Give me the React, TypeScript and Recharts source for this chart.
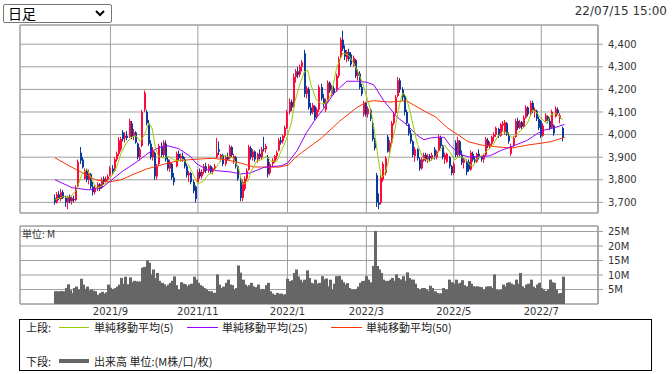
import React from "react";
import {
  ComposedChart,
  Bar,
  Line,
  XAxis,
  YAxis,
  CartesianGrid,
  ReferenceArea,
} from "recharts";

// 日足 OHLC (trading-day index 0 = first candle, last = 2022/07/15)
const opens = [
  3720, 3700, 3735, 3715, 3745, 3720, 3700, 3725, 3705, 3715, 3710, 3770, 3920, 3890, 3805, 3840, 3800, 3825, 3770, 3745,
  3765, 3780, 3765, 3805, 3790, 3800, 3820, 3850, 3840, 3890, 3915, 3935, 4010, 3985, 3995, 3990, 4050, 3995, 4010, 3960,
  3900, 3950, 4110, 4100, 4050, 3960, 3900, 3920, 3815, 3870, 3950, 3910, 3960, 3890, 3850, 3870, 3810, 3860, 3915, 3895,
  3905, 3890, 3860, 3820, 3830, 3790, 3770, 3790, 3835, 3815, 3835, 3860, 3840, 3860, 3835, 3850, 3900, 3935, 3895, 3910,
  3870, 3900, 3895, 3945, 3880, 3900, 3860, 3800, 3720, 3760, 3805, 3845, 3940, 3900, 3925, 3890, 3915, 3900, 3940, 3935,
  3900, 3830, 3870, 3880, 3905, 3930, 3975, 3970, 3995, 4030, 4100, 4145, 4125, 4255, 4280, 4265, 4300, 4360, 4180, 4200,
  4120, 4100, 4125, 4080, 4110, 4210, 4160, 4110, 4150, 4230, 4180, 4205, 4200, 4260, 4345, 4420, 4375, 4335, 4365, 4355,
  4310, 4330, 4260, 4270, 4210, 4090, 4140, 4090, 4110, 4050, 3975, 3820, 3700, 3700, 3800, 3830, 3990, 3930, 3965, 4050,
  4095, 4170, 4240, 4200, 4170, 4100, 4045, 4005, 3970, 3905, 3935, 3890, 3850, 3885, 3910, 3890, 3905, 3895, 3935, 3900,
  3930, 3985, 3950, 3890, 3880, 3900, 3860, 3830, 3965, 3910, 3970, 3910, 3875, 3880, 3880, 3845, 3915, 3890, 3880, 3915,
  3900, 3890, 3910, 3975, 3950, 3960, 3990, 4000, 4025, 3995, 4040, 4010, 4050, 3995, 3915, 3950, 3990, 4060, 4030, 4055,
  4035, 4075, 4120, 4090, 4140, 4100, 4105, 4070, 4060, 3995, 4060, 4080, 4060, 4030, 4040, 4080, 4110, 4070, 4030,
];
const highs = [
  3735, 3745, 3750, 3760, 3755, 3730, 3730, 3735, 3725, 3730, 3775, 3890, 3945, 3900, 3850, 3850, 3845, 3830, 3790, 3775,
  3790, 3785, 3810, 3815, 3815, 3825, 3860, 3865, 3900, 3925, 3990, 3990, 4020, 4010, 4015, 4070, 4060, 4025, 4015, 3965,
  3945, 4110, 4195, 4110, 4065, 3975, 3945, 3925, 3870, 3960, 3965, 3975, 3975, 3900, 3890, 3875, 3830, 3925, 3930, 3915,
  3920, 3900, 3870, 3840, 3835, 3800, 3775, 3845, 3850, 3845, 3870, 3875, 3870, 3865, 3855, 3870, 3985, 3970, 3915, 3915,
  3905, 3920, 3955, 3950, 3915, 3905, 3865, 3810, 3800, 3815, 3850, 3955, 3950, 3935, 3930, 3920, 3935, 3945, 3990, 3960,
  3910, 3880, 3895, 3910, 3930, 3985, 3990, 4000, 4040, 4110, 4160, 4155, 4270, 4290, 4300, 4310, 4330, 4375, 4215, 4210,
  4140, 4140, 4130, 4120, 4220, 4225, 4180, 4160, 4240, 4235, 4220, 4215, 4270, 4345, 4430, 4460, 4395, 4375, 4380, 4365,
  4350, 4335, 4290, 4280, 4225, 4150, 4145, 4125, 4115, 4060, 3985, 3830, 3740, 3820, 3880, 3905, 3998, 3975, 4060, 4100,
  4175, 4255, 4250, 4210, 4180, 4110, 4050, 4020, 3975, 3945, 3940, 3900, 3900, 3920, 3920, 3915, 3915, 3920, 3945, 3930,
  4000, 3995, 3955, 3920, 3920, 3905, 3865, 3880, 3975, 3990, 3975, 3930, 3900, 3890, 3890, 3930, 3925, 3905, 3920, 3935,
  3910, 3915, 3990, 3985, 3970, 3995, 4010, 4035, 4030, 4050, 4060, 4065, 4055, 4010, 3960, 3995, 4070, 4075, 4065, 4060,
  4085, 4130, 4125, 4150, 4150, 4120, 4110, 4080, 4065, 4050, 4095, 4085, 4075, 4110, 4045, 4125, 4120, 4095, 4035,
];
const lows = [
  3690, 3695, 3710, 3705, 3715, 3680, 3670, 3695, 3690, 3700, 3705, 3765, 3870, 3850, 3800, 3790, 3780, 3760, 3730, 3735,
  3750, 3750, 3760, 3780, 3785, 3790, 3815, 3825, 3835, 3880, 3905, 3925, 3970, 3965, 3975, 3985, 3980, 3975, 3960, 3890,
  3885, 3945, 4100, 4040, 3950, 3890, 3885, 3800, 3800, 3860, 3900, 3900, 3880, 3840, 3835, 3800, 3775, 3855, 3885, 3880,
  3880, 3850, 3810, 3790, 3780, 3740, 3700, 3785, 3805, 3805, 3825, 3830, 3830, 3830, 3825, 3840, 3895, 3910, 3880, 3860,
  3860, 3885, 3890, 3900, 3870, 3850, 3795, 3705, 3705, 3750, 3795, 3840, 3890, 3885, 3880, 3875, 3890, 3890, 3925, 3920,
  3810, 3820, 3860, 3875, 3890, 3925, 3955, 3960, 3985, 4025, 4090, 4105, 4120, 4230, 4250, 4255, 4280, 4165, 4160, 4110,
  4085, 4090, 4065, 4070, 4100, 4150, 4120, 4100, 4145, 4185, 4170, 4175, 4190, 4250, 4340, 4370, 4330, 4320, 4325, 4300,
  4300, 4250, 4240, 4200, 4170, 4080, 4080, 4075, 4060, 3970, 3930, 3680, 3670, 3690, 3790, 3820, 3920, 3920, 3960, 4040,
  4090, 4165, 4185, 4150, 4085, 4040, 3995, 3960, 3900, 3880, 3885, 3840, 3845, 3880, 3880, 3875, 3880, 3885, 3890, 3890,
  3925, 3940, 3890, 3870, 3875, 3850, 3820, 3820, 3900, 3900, 3900, 3865, 3850, 3820, 3835, 3840, 3880, 3870, 3875, 3890,
  3880, 3875, 3905, 3940, 3935, 3950, 3970, 3990, 3985, 3990, 4015, 4000, 3995, 3960, 3905, 3945, 3985, 4020, 4025, 4025,
  4030, 4070, 4080, 4085, 4095, 4075, 4060, 4020, 3985, 3990, 4055, 4050, 4020, 4025, 3995, 4075, 4085, 4050, 3970,
];
const closes = [
  3700, 3735, 3715, 3745, 3720, 3700, 3725, 3705, 3720, 3710, 3765, 3880, 3885, 3855, 3840, 3800, 3830, 3770, 3745, 3765,
  3780, 3760, 3800, 3790, 3805, 3815, 3850, 3835, 3890, 3915, 3975, 3980, 3980, 3995, 3985, 4060, 3990, 4010, 3965, 3900,
  3935, 4100, 4185, 4050, 3960, 3900, 3930, 3815, 3860, 3950, 3910, 3965, 3890, 3850, 3880, 3810, 3790, 3915, 3895, 3905,
  3890, 3860, 3820, 3830, 3790, 3750, 3715, 3835, 3815, 3835, 3860, 3840, 3860, 3835, 3850, 3860, 3920, 3925, 3910, 3870,
  3900, 3890, 3945, 3910, 3905, 3860, 3805, 3720, 3790, 3805, 3840, 3945, 3900, 3925, 3890, 3915, 3900, 3935, 3935, 3950,
  3825, 3870, 3885, 3905, 3920, 3975, 3965, 3995, 4030, 4100, 4145, 4120, 4255, 4280, 4265, 4300, 4320, 4180, 4205, 4120,
  4095, 4130, 4075, 4110, 4210, 4160, 4135, 4150, 4230, 4195, 4210, 4185, 4260, 4335, 4420, 4380, 4345, 4365, 4335, 4310,
  4340, 4260, 4275, 4210, 4180, 4140, 4090, 4115, 4070, 3980, 3940, 3700, 3690, 3810, 3870, 3895, 3925, 3965, 4050, 4090,
  4165, 4240, 4200, 4165, 4100, 4050, 4005, 3970, 3910, 3935, 3895, 3850, 3890, 3910, 3890, 3905, 3895, 3910, 3900, 3925,
  3990, 3950, 3900, 3910, 3915, 3860, 3830, 3870, 3910, 3975, 3910, 3875, 3890, 3835, 3845, 3920, 3890, 3880, 3915, 3900,
  3890, 3910, 3980, 3950, 3960, 3990, 4000, 4030, 3995, 4045, 4050, 4055, 4000, 3970, 3950, 3985, 4060, 4030, 4055, 4035,
  4075, 4120, 4090, 4140, 4105, 4110, 4070, 4030, 3995, 4040, 4085, 4060, 4030, 4100, 4005, 4115, 4095, 4085, 3985,
];
// 出来高 (M)
const volumes = [
  4.4, 4.4, 4.3, 4.5, 4.4, 5.5, 6.8, 4.8, 3.8, 5.5, 6.0, 5.0, 8.7, 6.7, 5.2, 6.0, 4.7, 5.0, 4.6, 4.4,
  3.2, 3.8, 4.2, 3.6, 4.0, 6.7, 5.6, 5.2, 5.5, 6.0, 6.7, 9.0, 7.0, 9.4, 6.8, 9.2, 7.5, 8.0, 7.8, 7.7,
  7.8, 12.5, 12.8, 15.0, 14.2, 10.2, 11.9, 8.9, 10.7, 8.0, 7.3, 6.8, 6.1, 6.7, 7.3, 8.0, 9.5, 6.5, 5.0, 7.5,
  7.0, 6.8, 6.1, 6.7, 7.0, 9.4, 8.4, 7.3, 6.5, 6.1, 5.5, 5.0, 4.5, 4.4, 3.8, 3.9, 10.2, 6.7, 5.5, 6.0,
  7.3, 8.4, 6.7, 6.5, 5.0, 5.5, 13.3, 10.8, 8.4, 6.7, 6.1, 6.5, 7.3, 6.1, 5.8, 6.7, 5.0, 5.2, 5.0, 6.5,
  7.3, 4.4, 3.6, 3.2, 3.8, 3.5, 3.6, 3.2, 3.4, 8.7, 7.9, 8.2, 10.7, 11.9, 9.5, 8.4, 7.5, 8.4, 11.6, 9.0,
  7.3, 7.0, 8.4, 7.0, 7.3, 9.6, 8.5, 8.8, 6.1, 8.4, 5.0, 7.0, 9.6, 9.7, 8.4, 7.5, 6.7, 7.2, 5.5, 5.0,
  5.0, 5.2, 6.0, 7.3, 7.9, 8.0, 9.6, 8.4, 7.5, 13.1, 25.2, 13.1, 11.9, 10.7, 8.4, 8.0, 7.9, 8.4, 9.0, 8.0,
  10.2, 9.0, 8.5, 9.6, 8.0, 10.9, 9.0, 8.4, 8.4, 7.0, 5.5, 5.0, 5.5, 5.5, 5.0, 4.5, 6.3, 5.5, 4.4, 3.8,
  3.6, 3.7, 5.5, 5.0, 5.0, 8.4, 7.5, 7.0, 8.4, 7.0, 7.3, 8.2, 6.5, 6.1, 7.9, 7.0, 6.1, 6.0, 6.1, 5.9,
  5.8, 5.0, 6.0, 6.1, 6.1, 5.5, 10.2, 5.0, 4.8, 5.0, 6.7, 6.0, 7.3, 7.5, 7.0, 6.7, 8.4, 7.0, 10.7, 6.1,
  5.5, 6.7, 7.0, 8.4, 6.0, 5.5, 6.7, 7.3, 5.5, 5.0, 4.5, 5.0, 8.4, 7.5, 7.3, 5.0, 3.6, 3.8, 9.4,
];

// 移動平均 as [trading-day index, value]
const ma5Points: [number, number][] = [
  [0, 3711], [4, 3726], [7, 3723], [10, 3753], [12.5, 3822], [15, 3847], [17, 3807], [19.5, 3763], [22, 3773], [24, 3788],
  [26.5, 3815], [29, 3859], [31, 3918], [33.5, 3963], [36, 3989], [38, 3995], [40, 3970], [42, 4000], [44, 4051], [45.5, 4029],
  [47, 3948], [48.5, 3904], [51, 3896], [53, 3904], [55.5, 3889], [58, 3884], [60, 3890], [62.5, 3868], [64.5, 3831], [67, 3782],
  [69.5, 3794], [72, 3824], [74, 3831], [76.5, 3868], [79, 3909], [81, 3904], [83.5, 3897], [86, 3853], [88, 3779], [90.5, 3794],
  [92, 3838], [94.5, 3882], [97, 3890], [99, 3904], [101.5, 3882], [104, 3882], [106, 3926], [108.5, 3978], [111, 4059], [112.5, 4147],
  [115, 4228], [117, 4279], [118.5, 4285], [120, 4221], [122.5, 4154], [125, 4135], [127, 4140], [129.5, 4176], [132, 4294], [135, 4360],
  [137.5, 4353], [139.5, 4324], [142, 4279], [144.5, 4221], [147, 4140], [148.5, 4088], [150, 4000], [151.5, 3897], [153, 3809], [154.5, 3824],
  [156, 3868], [157.5, 3941], [159.5, 4029], [161.5, 4132], [163, 4184], [164.5, 4169], [166.5, 4103], [168.5, 4015], [170, 3956], [172.5, 3897],
  [175.5, 3882], [178, 3898], [180, 3925], [182.5, 3954], [185, 3925], [187.5, 3888], [189.5, 3903], [192, 3896], [194.5, 3866], [196, 3859],
  [198, 3896], [200.5, 3910], [203, 3932], [205.5, 3954], [207.5, 3991], [210, 4013], [212.5, 4006], [214.5, 3984], [217, 4006], [219.5, 4028],
  [221.5, 4050], [224, 4109], [225.5, 4101], [228, 4072], [230.5, 4050], [232.5, 4087], [235, 4094], [237.5, 4072], [238, 4065],
];
const ma25Points: [number, number][] = [
  [0, 3800], [8, 3765], [16, 3755], [22, 3765], [26, 3795], [32, 3840], [38, 3877], [44, 3920], [49, 3943], [53, 3950],
  [58, 3938], [63.5, 3903], [66.5, 3870], [71.5, 3844], [76, 3840], [82, 3835], [87, 3826], [91.5, 3830], [98, 3855], [106, 3862],
  [109, 3873], [113.5, 3929], [118, 4010], [122.8, 4077], [125.6, 4110], [130.6, 4180], [133.4, 4206], [136.8, 4236], [141.6, 4236], [146, 4232],
  [149.5, 4220], [154, 4152], [160.2, 4079], [164.8, 4045], [169.6, 3998], [173, 3977], [176, 3985], [179, 3988], [182.5, 3988], [185.5, 3949],
  [190.2, 3912], [194, 3901], [200, 3902], [204.2, 3907], [208.9, 3929], [215.2, 3951], [221.5, 3975], [226.4, 4006], [229.5, 4020], [234, 4030],
  [238.8, 4045],
];
const ma50Points: [number, number][] = [
  [0, 3897], [8, 3855], [13, 3830], [19, 3800], [25, 3790], [31, 3800], [37, 3825], [43, 3848], [50, 3866], [57, 3883],
  [62, 3888], [68, 3892], [74, 3895], [80.6, 3888], [87, 3874], [93, 3857], [100, 3856], [105, 3856], [109.3, 3865], [112.5, 3897],
  [115.6, 3920], [118.5, 3940], [125, 3985], [133.4, 4059], [141.3, 4118], [146, 4144], [149, 4150], [157, 4144], [164.7, 4150], [168, 4132],
  [174, 4100], [178.5, 4078], [184.2, 4028], [189, 3999], [193.6, 3969], [199.8, 3954], [206, 3947], [214, 3940], [221.7, 3954], [228, 3962],
  [232.7, 3969], [239, 3988],
];

const monthStartIdx = [26, 67, 109, 146, 187, 228];
const monthLabels = ["2021/9", "2021/11", "2022/1", "2022/3", "2022/5", "2022/7"];
const priceTicks = [3700, 3800, 3900, 4000, 4100, 4200, 4300, 4400];
const volumeTicks = [5, 10, 15, 20, 25];

const X_DOMAIN: [number, number] = [-16.4, 254.6];
const PRICE_DOMAIN: [number, number] = [3653, 4485];
const VOL_DOMAIN: [number, number] = [0, 26.9];

const UP = "#ff0a3c";
const DOWN = "#0a3a9c";
const GRID = "#9e9e9e";
const AXIS_FONT = "'DejaVu Sans', Verdana, sans-serif";
const JP_FONT = "'Noto Sans CJK JP', sans-serif";

const candleRows = closes.map((c, i) => ({
  i,
  open: opens[i],
  high: highs[i],
  low: lows[i],
  close: c,
  range: [lows[i], highs[i]],
}));
const volumeRows = volumes.map((v, i) => ({ i, volume: v }));
const toRows = (pts: [number, number][]) => pts.map(([i, v]) => ({ i, v }));

function Candle(props: any) {
  const { x, y, width, height, payload } = props;
  if (x == null || !payload) return null;
  const top = Math.min(y, y + height);
  const h = Math.abs(height);
  const span = payload.high - payload.low || 1;
  const toY = (v: number) => top + ((payload.high - v) / span) * h;
  const color = payload.close >= payload.open ? UP : DOWN;
  const c = Math.round(x + width / 2);
  const bTop = toY(Math.max(payload.open, payload.close));
  const bBot = toY(Math.min(payload.open, payload.close));
  return (
    <g>
      <rect x={c - 1} y={top} width={1} height={Math.max(1, h)} fill={color} />
      <rect x={c - 1} y={bTop} width={2} height={Math.max(1, bBot - bTop)} fill={color} />
    </g>
  );
}

function VolumeBar(props: any) {
  const { x, y, width, height } = props;
  if (x == null) return null;
  const c = Math.round(x + width / 2);
  return <rect x={c - 1} y={y} width={3} height={Math.max(0, height)} fill="#666666" />;
}

const tickStyle = { fill: "#333", fontSize: 10, fontFamily: AXIS_FONT };

export default function App() {
  return (
    <div style={{ position: "absolute", left: 0, top: 0, width: 672, height: 374, background: "#fff" }}>
      {/* 期間セレクタ */}
      <div
        style={{
          position: "absolute",
          left: 3,
          top: 4,
          width: 109,
          height: 19,
          boxSizing: "border-box",
          border: "1px solid #767676",
          borderRadius: 2,
          background: "#fff",
          fontFamily: JP_FONT,
          fontSize: 14,
          lineHeight: "17px",
          paddingLeft: 4,
          color: "#000",
        }}
      >
        日足
        <svg width={10} height={7} style={{ position: "absolute", right: 6, top: 5 }}>
          <path d="M1 1 L5 5 L9 1" stroke="#000" strokeWidth={2} fill="none" />
        </svg>
      </div>
      <div
        style={{
          position: "absolute",
          right: 5,
          top: 4,
          fontFamily: AXIS_FONT,
          fontSize: 12,
          color: "#333",
        }}
      >
        22/07/15 15:00
      </div>

      {/* 上段: ローソク足 + 移動平均 */}
      <div style={{ position: "absolute", left: 0, top: 0 }}>
        <ComposedChart
          width={672}
          height={220}
          data={candleRows}
          margin={{ top: 25, right: 4, bottom: 7, left: 20 }}
        >
          <CartesianGrid stroke={GRID} />
          <XAxis
            type="number"
            dataKey="i"
            domain={X_DOMAIN}
            ticks={monthStartIdx}
            allowDataOverflow
            hide
          />
          <YAxis
            orientation="right"
            domain={PRICE_DOMAIN}
            ticks={priceTicks}
            interval={0}
            allowDataOverflow
            width={70}
            stroke={GRID}
            tickSize={5}
            tickMargin={5}
            tick={tickStyle}
            tickFormatter={(v: number) => v.toLocaleString("en-US")}
          />
          <ReferenceArea
            x1={X_DOMAIN[0]}
            x2={X_DOMAIN[1]}
            y1={PRICE_DOMAIN[0]}
            y2={PRICE_DOMAIN[1]}
            fill="none"
            stroke={GRID}
          />
          <Bar dataKey="range" barSize={2} shape={<Candle />} isAnimationActive={false} />
          <Line
            data={toRows(ma50Points)}
            dataKey="v"
            stroke="#ff3300"
            strokeWidth={1}
            dot={false}
            type="linear"
            isAnimationActive={false}
          />
          <Line
            data={toRows(ma25Points)}
            dataKey="v"
            stroke="#9900ff"
            strokeWidth={1}
            dot={false}
            type="linear"
            isAnimationActive={false}
          />
          <Line
            data={toRows(ma5Points)}
            dataKey="v"
            stroke="#99cc00"
            strokeWidth={1}
            dot={false}
            type="linear"
            isAnimationActive={false}
          />
        </ComposedChart>
      </div>

      {/* 下段: 出来高 */}
      <div style={{ position: "absolute", left: 0, top: 220 }}>
        <ComposedChart
          width={672}
          height={101}
          data={volumeRows}
          margin={{ top: 6, right: 4, bottom: 0, left: 20 }}
        >
          <CartesianGrid stroke={GRID} />
          <XAxis
            type="number"
            dataKey="i"
            domain={X_DOMAIN}
            ticks={monthStartIdx}
            interval={0}
            allowDataOverflow
            height={17}
            axisLine={false}
            tickLine={false}
            tickSize={0}
            tickMargin={4}
            tick={tickStyle}
            tickFormatter={(v: number) => monthLabels[monthStartIdx.indexOf(v)] ?? ""}
          />
          <YAxis
            orientation="right"
            domain={VOL_DOMAIN}
            ticks={volumeTicks}
            interval={0}
            allowDataOverflow
            width={70}
            stroke={GRID}
            tickSize={5}
            tickMargin={5}
            tick={tickStyle}
            tickFormatter={(v: number) => `${v}M`}
          />
          <ReferenceArea
            x1={X_DOMAIN[0]}
            x2={X_DOMAIN[1]}
            y1={VOL_DOMAIN[0]}
            y2={VOL_DOMAIN[1]}
            fill="none"
            stroke={GRID}
          />
          <Bar dataKey="volume" barSize={2} shape={<VolumeBar />} isAnimationActive={false} />
        </ComposedChart>
      </div>
      <div
        style={{
          position: "absolute",
          left: 22,
          top: 226,
          fontFamily: JP_FONT,
          fontSize: 10,
          color: "#333",
        }}
      >
        単位: M
      </div>

      {/* 凡例 */}
      <div
        style={{
          position: "absolute",
          left: 19,
          top: 319,
          width: 633,
          height: 52,
          boxSizing: "border-box",
          border: "1px solid #000",
          fontFamily: JP_FONT,
          fontSize: 11,
          lineHeight: "14px",
          color: "#222",
        }}
      >
        <span style={{ position: "absolute", left: 6, top: 0 }}>上段:</span>
        <span style={{ position: "absolute", left: 39, top: 7, width: 30, height: 1, background: "#99cc00" }} />
        <span style={{ position: "absolute", left: 74, top: 0 }}>単純移動平均(5)</span>
        <span style={{ position: "absolute", left: 167, top: 7, width: 31, height: 1, background: "#9900ff" }} />
        <span style={{ position: "absolute", left: 202, top: 0 }}>単純移動平均(25)</span>
        <span style={{ position: "absolute", left: 311, top: 7, width: 31, height: 1, background: "#ff3300" }} />
        <span style={{ position: "absolute", left: 346, top: 0 }}>単純移動平均(50)</span>
        <span style={{ position: "absolute", left: 6, top: 34 }}>下段:</span>
        <span style={{ position: "absolute", left: 39, top: 39, width: 30, height: 4, background: "#666" }} />
        <span style={{ position: "absolute", left: 74, top: 34 }}>出来高 単位:(M株/口/枚)</span>
      </div>
    </div>
  );
}
